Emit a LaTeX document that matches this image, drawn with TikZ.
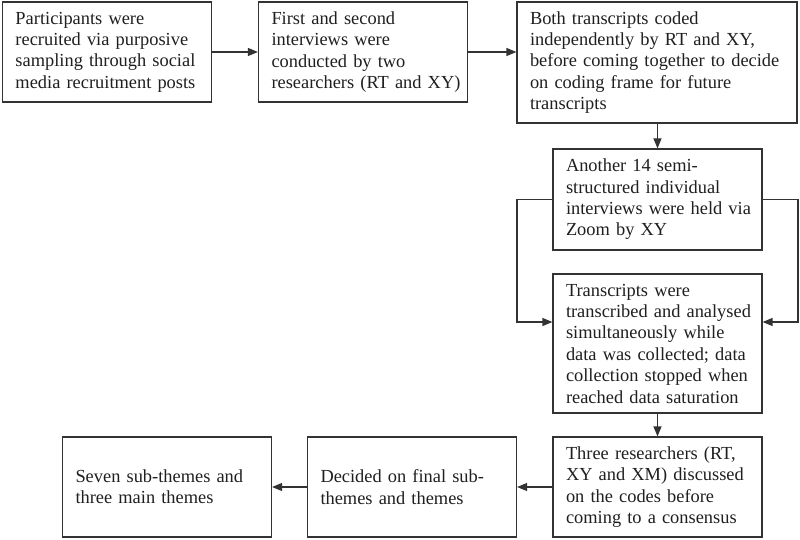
\documentclass[tikz,border=0pt]{standalone}
\usepackage{fontspec}
\setmainfont{Liberation Serif}
\usetikzlibrary{arrows.meta,calc}
\newcommand{\bt}[1]{\leftskip=13pt\relax #1\par}
\begin{document}
\begin{tikzpicture}[x=1pt,y=-1pt,
  stepbox/.style={draw=black!80, line width=1.2pt, inner xsep=0pt, inner ysep=0pt,
    align=left, text=black!88, font=\fontsize{18.4}{21.4}\selectfont, anchor=center},
  wbox/.style={stepbox, text width=209pt},
  flow/.style={draw=black!80, line width=1.2pt, -{Triangle[length=10pt,width=8pt]}}]
\useasboundingbox (0,0) rectangle (800,540);
\node[wbox, minimum height=100pt] (b1) at (107,52) {\bt{Participants were\\recruited via purposive\\sampling through social\\media recruitment posts}};
\node[wbox, minimum height=100pt] (b2) at (363,52) {\bt{First and second\\interviews were\\conducted by two\\researchers (RT and XY)}};
\node[stepbox, text width=280pt, minimum height=121pt] (b3) at (657,62.5) {\bt{Both transcripts coded\\independently by RT and XY,\\before coming together to decide\\on coding frame for future\\transcripts}};
\node[wbox, minimum height=101pt] (b4) at (657.5,199.5) {\bt{Another 14 semi-\\structured individual\\interviews were held via\\Zoom by XY}};
\node[wbox, minimum height=139pt] (b5) at (657.5,343.5) {\bt{Transcripts were\\transcribed and analysed\\simultaneously while\\data was collected; data\\collection stopped when\\reached data saturation}};
\node[wbox, minimum height=100pt] (b6) at (657.5,487) {\bt{Three researchers (RT,\\XY and XM) discussed\\on the codes before\\coming to a consensus}};
\node[wbox, minimum height=100pt] (b7) at (412,487) {\bt{Decided on final sub-\\themes and themes}};
\node[wbox, minimum height=100pt] (b8) at (167,487) {\bt{Seven sub-themes and\\three main themes}};
\coordinate (lt) at (517,199.5);
\coordinate (lb) at (517,322);
\coordinate (rt) at (798,199.5);
\coordinate (rb) at (798,322);
\draw[flow] (b1.east) -- (b2.west);
\draw[flow] (b2.east) -- (b2.east -| b3.west);
\draw[flow] (b3.south -| b4.north) -- (b4.north);
\draw[flow] (b4.west) -- (lt) -- (lb) -- (lb -| b5.west);
\draw[flow] (b4.east) -- (rt) -- (rb) -- (rb -| b5.east);
\draw[flow] (b5.south) -- (b6.north);
\draw[flow] (b6.west) -- (b7.east);
\draw[flow] (b7.west) -- (b8.east);
\end{tikzpicture}
\end{document}
